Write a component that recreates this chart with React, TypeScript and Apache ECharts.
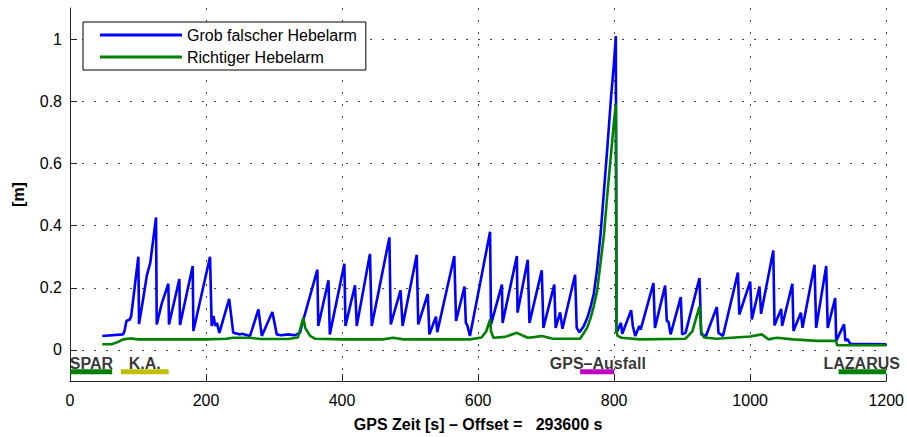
import React, { useEffect, useRef } from "react";
import * as echarts from "echarts";

// GPS time [s] minus offset, and error [m]
const blueTime = [
  47.5, 78, 80, 83, 88, 90, 100.5, 101.5, 108, 113, 118, 126.5, 127.5, 135, 144.6, 145.5,
  160.8, 161.7, 180.4, 181.4, 205.9, 208.3, 211, 213.6, 216, 219.6, 234, 240, 250, 253,
  264.7, 277, 282, 297.5, 304, 310, 321, 330, 338, 344.6, 363.7, 365, 380, 382, 403.4, 405,
  419, 421.6, 441, 443.6, 469.6, 471.6, 486, 489, 509.8, 512, 526, 528.4, 538, 540, 565,
  567.6, 580, 582, 584, 588, 617.6, 619, 635, 636, 657, 658, 673, 675.5, 693.6, 696, 712,
  714, 720.6, 724, 742.6, 745, 749, 755, 760, 765, 770, 775, 780, 785, 790, 795, 800, 802.5,
  803.5, 810, 812, 825, 827.5, 831, 837, 839, 857.8, 860, 875, 877.5, 880, 883, 898, 900, 905,
  925.5, 928, 935, 951, 953.4, 960, 982, 984, 1000, 1002.5, 1013.7, 1016, 1034, 1035.8,
  1045.6, 1047, 1062, 1063.7, 1074.5, 1077, 1094.6, 1097, 1111.8, 1114, 1125, 1126.5, 1138,
  1140, 1143, 1147, 1200,
];
const blueError = [
  0.045, 0.05, 0.06, 0.093, 0.098, 0.11, 0.3, 0.083, 0.17, 0.24, 0.28, 0.426, 0.082, 0.15, 0.213, 0.082,
  0.228, 0.08, 0.27, 0.061, 0.3, 0.077, 0.109, 0.077, 0.087, 0.055, 0.164, 0.055, 0.05, 0.052,
  0.045, 0.13, 0.045, 0.122, 0.05, 0.047, 0.05, 0.047, 0.055, 0.109, 0.258, 0.077, 0.224, 0.05, 0.277, 0.077,
  0.208, 0.077, 0.309, 0.077, 0.362, 0.082, 0.192, 0.077, 0.306, 0.082, 0.18, 0.05, 0.107, 0.057, 0.302,
  0.093, 0.204, 0.087, 0.08, 0.045, 0.38, 0.082, 0.21, 0.087, 0.302, 0.12, 0.29, 0.087, 0.256, 0.071, 0.21,
  0.071, 0.121, 0.068, 0.242, 0.071, 0.057, 0.075, 0.1, 0.135, 0.18, 0.26, 0.37, 0.51, 0.65, 0.8, 0.93, 1.01,
  0.055, 0.087, 0.052, 0.128, 0.077, 0.045, 0.077, 0.065, 0.215, 0.071, 0.207, 0.093, 0.09, 0.05, 0.17, 0.05, 0.055,
  0.231, 0.05, 0.045, 0.138, 0.055, 0.045, 0.249, 0.114, 0.22, 0.098, 0.204, 0.116, 0.32, 0.079,
  0.132, 0.077, 0.213, 0.061, 0.12, 0.071, 0.274, 0.071, 0.27, 0.071, 0.167, 0.029, 0.082,
  0.029, 0.035, 0.02, 0.018,
];

const greenTime = [
  47.5, 61, 70, 78, 88, 100, 150, 200, 230, 240, 264, 280, 320, 335, 343, 346, 353, 360, 400,
  460, 475, 490, 560, 588, 605, 612, 617.6, 619, 622.5, 640, 657, 673, 685, 693.6, 710, 750,
  760, 765, 770, 775, 780, 785, 790, 795, 800, 802.5, 803.5, 805, 811, 838, 905, 915, 925.5,
  928, 932, 951, 1000, 1017, 1027, 1039, 1063, 1098, 1126, 1128, 1200,
];
const greenError = [
  0.018, 0.018, 0.025, 0.034, 0.037, 0.034, 0.034, 0.034, 0.036, 0.039, 0.039, 0.035, 0.035, 0.04, 0.103, 0.07, 0.045, 0.036, 0.034,
  0.034, 0.039, 0.034, 0.034, 0.034, 0.04, 0.06, 0.098, 0.06, 0.039, 0.042, 0.055, 0.039, 0.042, 0.045, 0.036, 0.036,
  0.07, 0.1, 0.14, 0.19, 0.28, 0.37, 0.5, 0.62, 0.74, 0.79, 0.06, 0.045, 0.039, 0.034, 0.036, 0.06, 0.14,
  0.06, 0.04, 0.036, 0.043, 0.05, 0.034, 0.039, 0.034, 0.029, 0.029, 0.015, 0.015,
];

const seriesNames = ["Grob falscher Hebelarm", "Richtiger Hebelarm"];
const yTickValues = [0, 0.2, 0.4, 0.6, 0.8, 1];

// phase markers below the zero line
const phaseNames = ["SPAR", "K.A.", "GPS–Ausfall", "LAZARUS"];
const phaseStart = [0, 75, 750, 1130];
const phaseEnd = [62, 145, 800, 1200];
const phaseLabelCenter = [31.6, 110, 776, 1164];
const phaseBarLevel = -0.07;
const phaseLabelLevel = -0.043;

const phaseColors = ["#008000", "#bfbf00", "#bf00bf", "#008000"];

const FONT = "'Liberation Sans', Arial, Helvetica, sans-serif";

export default function App() {
  const ref = useRef<HTMLDivElement>(null);
  useEffect(() => {
    if (!ref.current) return;
    const chart = echarts.init(ref.current, undefined, { renderer: "svg" });
    const grid = "#222";
    const dotted = { color: "#444", width: 1, type: [2, 10] as number[] };

    const phaseBars = phaseNames.map((n, i) => ({
      name: "phase-" + i,
      type: "line" as const,
      data: [
        [phaseStart[i], phaseBarLevel],
        [phaseEnd[i], phaseBarLevel],
      ],
      symbol: "none",
      lineStyle: { color: phaseColors[i], width: 5, cap: "butt" as const },
      z: 4,
      silent: true,
    }));

    chart.setOption({
      animation: false,
      textStyle: { fontFamily: FONT },
      grid: { left: 70, right: 20, top: 8, bottom: 51 },
      legend: {
        data: seriesNames,
        orient: "vertical",
        left: 83,
        top: 22,
        padding: [5, 9, 5, 17],
        itemWidth: 82,
        itemHeight: 3,
        itemGap: 6,
        icon: "rect",
        borderColor: "#000",
        borderWidth: 1,
        borderRadius: 0,
        backgroundColor: "#fff",
        textStyle: { fontSize: 16, color: "#000", fontFamily: FONT, lineHeight: 16 },
      },
      xAxis: {
        type: "value",
        min: 0,
        max: 1200,
        interval: 200,
        name: "GPS Zeit [s] – Offset =   293600 s",
        nameLocation: "middle",
        nameGap: 35,
        nameTextStyle: { fontSize: 16, fontWeight: "bold", color: "#000", fontFamily: FONT },
        axisLine: { onZero: false, lineStyle: { color: grid, width: 1 } },
        axisTick: { inside: true, length: 7, lineStyle: { color: grid } },
        axisLabel: {
          fontSize: 16,
          color: "#000",
          margin: 11,
          fontFamily: FONT,
          formatter: (v: number) => String(v),
        },
        splitLine: { show: true, lineStyle: dotted },
      },
      yAxis: {
        type: "value",
        min: -0.1,
        max: 1.1,
        name: "[m]",
        nameLocation: "middle",
        nameGap: 44,
        nameRotate: 90,
        nameTextStyle: { fontSize: 16, fontWeight: "bold", color: "#000", fontFamily: FONT },
        axisLine: { show: true, onZero: false, lineStyle: { color: grid, width: 1 } },
        axisTick: { show: true, inside: true, length: 7, customValues: yTickValues, lineStyle: { color: grid } },
        axisLabel: {
          fontSize: 16,
          color: "#000",
          margin: 8,
          customValues: yTickValues,
          fontFamily: FONT,
          formatter: (v: number) => String(Math.round(v * 10) / 10),
        },
        splitLine: { show: true, lineStyle: dotted },
      },
      series: [
        {
          name: seriesNames[0],
          type: "line",
          data: blueTime.map((t, i) => [t, blueError[i]]),
          symbol: "none",
          lineStyle: { color: "#0000ff", width: 2.6 },
          itemStyle: { color: "#0000ff" },
          z: 5,
        },
        {
          name: seriesNames[1],
          type: "line",
          data: greenTime.map((t, i) => [t, greenError[i]]),
          symbol: "none",
          lineStyle: { color: "#008000", width: 2.6 },
          itemStyle: { color: "#008000" },
          z: 6,
        },
        ...phaseBars,
        {
          name: "phase-labels",
          type: "scatter",
          symbolSize: 0,
          silent: true,
          z: 7,
          data: phaseNames.map((n, i) => ({ value: [phaseLabelCenter[i], phaseLabelLevel], name: n })),
          label: {
            show: true,
            position: "inside",
            formatter: (p: any) => p.name,
            fontSize: 16,
            fontWeight: "bold",
            color: "#000",
            fontFamily: FONT,
          },
        },
      ],
    });
    return () => chart.dispose();
  }, []);
  return <div ref={ref} style={{ width: 907, height: 437, position: "absolute", left: 0, top: 0 }} />;
}
